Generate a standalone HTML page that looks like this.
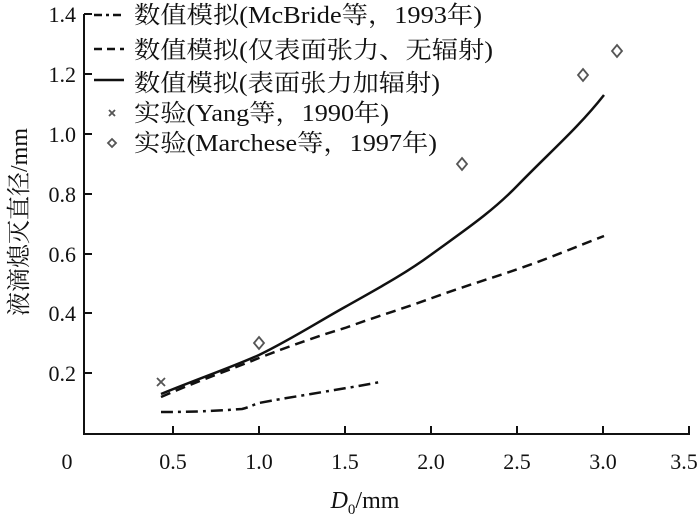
<!DOCTYPE html>
<html><head><meta charset="utf-8"><style>
html,body{margin:0;padding:0;background:#fff;}
svg text{font-family:"Liberation Serif","Noto Serif CJK SC",serif;fill:#111;}
</style></head><body>
<svg width="700" height="516" viewBox="0 0 700 516" xmlns="http://www.w3.org/2000/svg">
<g stroke="#111" stroke-width="2" fill="none">
<polyline points="84,14 84,434 690,434"/>
<line x1="84" y1="14" x2="92" y2="14"/><line x1="84" y1="74" x2="92" y2="74"/><line x1="84" y1="134" x2="92" y2="134"/>
<line x1="84" y1="194" x2="92" y2="194"/><line x1="84" y1="254" x2="92" y2="254"/><line x1="84" y1="313" x2="92" y2="313"/><line x1="84" y1="373" x2="92" y2="373"/>
<line x1="173" y1="434" x2="173" y2="426"/><line x1="259" y1="434" x2="259" y2="426"/><line x1="345" y1="434" x2="345" y2="426"/>
<line x1="431" y1="434" x2="431" y2="426"/><line x1="517" y1="434" x2="517" y2="426"/><line x1="603" y1="434" x2="603" y2="426"/><line x1="689" y1="434" x2="689" y2="426"/>
</g>
<g font-size="22" text-anchor="end">
<text x="76" y="22">1.4</text><text x="76" y="82">1.2</text><text x="76" y="142">1.0</text><text x="76" y="202">0.8</text>
<text x="76" y="262">0.6</text><text x="76" y="321">0.4</text><text x="76" y="381">0.2</text>
</g>
<g font-size="22" text-anchor="middle">
<text x="67" y="469">0</text><text x="173" y="469">0.5</text><text x="259" y="469">1.0</text><text x="345" y="469">1.5</text>
<text x="431" y="469">2.0</text><text x="517" y="469">2.5</text><text x="603" y="469">3.0</text><text x="684" y="469">3.5</text>
</g>
<text x="365" y="508" font-size="24" text-anchor="middle"><tspan font-style="italic">D</tspan><tspan font-size="15" dy="6">0</tspan><tspan dy="-6">/mm</tspan></text>
<text transform="translate(27,222) rotate(-90)" font-size="24" text-anchor="middle">液滴熄灭直径/mm</text>
<g fill="none" stroke="#111" stroke-width="2.5">
<path d="M161,394 C200,378 230,368 259,355 C290,340 318,322 345,307 C375,290 405,274 432,254 C465,230 492,212 518,185 C550,152 578,128 604,95"/>
<path d="M161,397 C200,380 230,370 259,358 C290,346 318,336 345,328 C375,317 405,308 432,298 C465,286 492,278 518,269 C550,258 578,246 604,236" stroke-dasharray="10,6"/>
<path d="M161,412 C180,412 200,412 242,409 C250,407 255,404 259,403 C285,398 300,396 311,394 C340,389 360,386 380,382" stroke-dasharray="12,5,3,5"/>
</g>
<g fill="none" stroke="#555" stroke-width="1.8">
<path d="M157,378 L165,386 M165,378 L157,386"/>
<path d="M259,337 L264,343 L259,349 L254,343Z"/>
<path d="M462,158 L467,164 L462,170 L457,164Z"/>
<path d="M583,69 L588,75 L583,81 L578,75Z"/>
<path d="M617,45 L622,51 L617,57 L612,51Z"/>
</g>
<g stroke="#111" stroke-width="2.5" fill="none">
<line x1="94" y1="15" x2="124" y2="15" stroke-dasharray="8,4,3,4"/>
<line x1="94" y1="49" x2="124" y2="49" stroke-dasharray="8,5"/>
<line x1="94" y1="80" x2="124" y2="80"/>
</g>
<path d="M109,110 L115,116 M115,110 L109,116" stroke="#555" stroke-width="1.8"/>
<path d="M112,139 L116,143 L112,147 L108,143Z" fill="none" stroke="#555" stroke-width="1.8"/>
<g font-size="24">
<text x="134" y="23" textLength="348" lengthAdjust="spacingAndGlyphs">数值模拟(McBride等，1993年)</text>
<text x="134" y="58" textLength="359" lengthAdjust="spacingAndGlyphs">数值模拟(仅表面张力、无辐射)</text>
<text x="134" y="91" textLength="306" lengthAdjust="spacingAndGlyphs">数值模拟(表面张力加辐射)</text>
<text x="134" y="121" textLength="255" lengthAdjust="spacingAndGlyphs">实验(Yang等，1990年)</text>
<text x="134" y="151" textLength="303" lengthAdjust="spacingAndGlyphs">实验(Marchese等，1997年)</text>
</g>
</svg>
</body></html>
